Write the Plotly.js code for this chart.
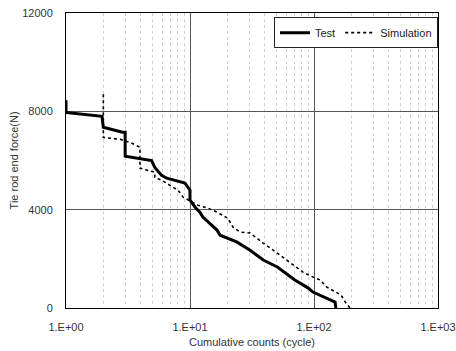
<!DOCTYPE html>
<html>
<head>
<meta charset="utf-8">
<script src="https://cdn.plot.ly/plotly-3.0.1.min.js"></script>
<style>html,body{margin:0;padding:0;background:#fff;}#chart{width:456px;height:351px;}</style>
</head>
<body>
<div id="chart"></div>
<script>
// Test (solid) – cumulative counts vs tie rod end force
var testCycles = [1, 1, 1.95, 2.0, 2.85, 3.0, 3.0, 4.9, 5.2, 5.9, 6.5, 9.1, 10, 10, 11, 12, 12.7, 16.5, 17.5, 24, 30.5, 39, 51, 64, 70, 90, 98, 148, 150];
var testForce  = [8450, 7950, 7800, 7350, 7150, 7150, 6170, 6000, 5720, 5400, 5280, 5080, 4790, 4390, 4100, 3900, 3700, 3170, 2960, 2680, 2350, 1950, 1660, 1260, 1140, 810, 650, 240, 0];
// Simulation (dotted)
var simCycles = [2.0, 2.0, 2.75, 3.4, 3.95, 3.95, 5.2, 5.2, 5.9, 6.9, 8.0, 8.8, 10.4, 11.6, 14, 16.5, 20.2, 22.2, 25.3, 30.5, 34.7, 38.8, 46.7, 56, 64, 73, 81.5, 98, 112, 127, 165, 181, 195];
var simForce  = [8700, 6940, 6860, 6700, 6540, 5690, 5520, 5320, 5200, 5000, 4790, 4510, 4300, 4180, 4060, 3900, 3650, 3290, 3090, 3050, 2840, 2640, 2360, 2070, 1870, 1660, 1460, 1260, 1140, 850, 530, 200, 0];
var xTickVals = [1, 10, 100, 1000];
var xTickText = ['1.E+00', '1.E+01', '1.E+02', '1.E+03'];
var yTickVals = [0, 4000, 8000, 12000];
var yTickText = ['0', '4000', '8000', '12000'];

var fontFam = 'Liberation Sans, Arial, sans-serif';
var traces = [
  {x: testCycles, y: testForce, mode: 'lines', name: 'Test', line: {color: '#000', width: 3}},
  {x: simCycles, y: simForce, mode: 'lines', name: 'Simulation', line: {color: '#000', width: 1.6, dash: 'dot'}}
];
var layout = {
  width: 456, height: 351,
  margin: {l: 66, r: 18, t: 13, b: 43},
  paper_bgcolor: '#fff', plot_bgcolor: '#fff',
  font: {family: fontFam, size: 11, color: '#333'},
  showlegend: true,
  legend: {
    orientation: 'h', x: 1, xanchor: 'right', y: 0.986, yanchor: 'top',
    bgcolor: '#fff', bordercolor: '#222', borderwidth: 1,
    font: {family: fontFam, size: 11, color: '#222'}
  },
  xaxis: {
    type: 'log', range: [0, 3],
    tickvals: xTickVals, ticktext: xTickText,
    showgrid: true, gridcolor: '#555', gridwidth: 1,
    showline: true, linecolor: '#000', linewidth: 1, mirror: true,
    ticks: '', ticklabelstandoff: 9, zeroline: false,
    minor: {dtick: 'D1', showgrid: true, gridcolor: '#d0d0d0', gridwidth: 1, griddash: 'dot', ticks: ''},
    title: {text: 'Cumulative counts (cycle)', font: {family: fontFam, size: 11, color: '#333'}, standoff: 6}
  },
  yaxis: {
    range: [0, 12000],
    tickvals: yTickVals, ticktext: yTickText,
    showgrid: true, gridcolor: '#555', gridwidth: 1,
    showline: true, linecolor: '#000', linewidth: 1, mirror: true,
    ticks: '', ticklabelstandoff: 10, zeroline: false
  },
  annotations: [{
    text: 'Tie rod end force(N)', textangle: -90, showarrow: false,
    xref: 'paper', yref: 'paper', x: -0.14, y: 0.5, xanchor: 'center', yanchor: 'middle',
    font: {family: fontFam, size: 11, color: '#333'}
  }]
};
Plotly.newPlot('chart', traces, layout, {displayModeBar: false, staticPlot: true});
</script>
</body>
</html>
